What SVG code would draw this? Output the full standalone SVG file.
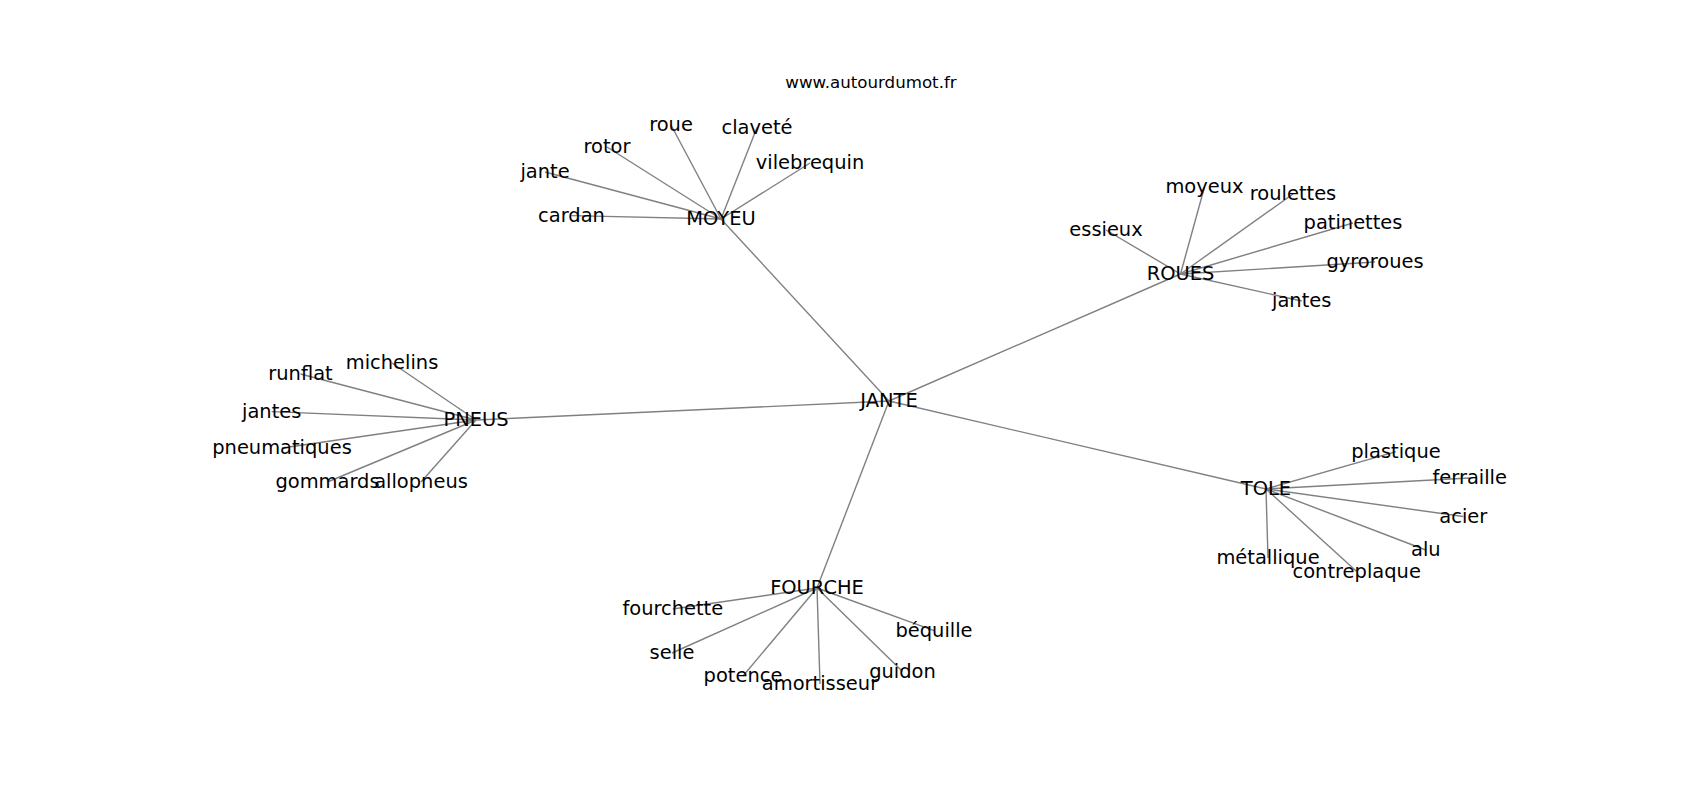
<svg xmlns="http://www.w3.org/2000/svg" width="1700" height="800" viewBox="0 0 1700 800">
<style>
.e{stroke:#808080;stroke-width:1.4;fill:none}
text{font-family:"DejaVu Sans","Liberation Sans",sans-serif;fill:#000}
.n{font-size:19.44px;text-anchor:middle}
.t{font-size:16.67px;text-anchor:middle}
</style>
<rect width="1700" height="800" fill="#fff"/>
<text class="t" x="871" y="88">www.autourdumot.fr</text>
<g id="edges">
<line class="e" x1="889" y1="401" x2="721" y2="219"/>
<line class="e" x1="889" y1="401" x2="1180.5" y2="274"/>
<line class="e" x1="889" y1="401" x2="476" y2="420"/>
<line class="e" x1="889" y1="401" x2="1266" y2="489"/>
<line class="e" x1="889" y1="401" x2="817" y2="588"/>
<line class="e" x1="721" y1="219" x2="671" y2="125"/>
<line class="e" x1="721" y1="219" x2="757" y2="127.5"/>
<line class="e" x1="721" y1="219" x2="607" y2="147"/>
<line class="e" x1="721" y1="219" x2="810" y2="163"/>
<line class="e" x1="721" y1="219" x2="545" y2="172"/>
<line class="e" x1="721" y1="219" x2="571.5" y2="215.6"/>
<line class="e" x1="1180.5" y1="274" x2="1204.5" y2="187"/>
<line class="e" x1="1180.5" y1="274" x2="1293" y2="194"/>
<line class="e" x1="1180.5" y1="274" x2="1106" y2="230"/>
<line class="e" x1="1180.5" y1="274" x2="1353" y2="223"/>
<line class="e" x1="1180.5" y1="274" x2="1375" y2="262"/>
<line class="e" x1="1180.5" y1="274" x2="1301.7" y2="301"/>
<line class="e" x1="476" y1="420" x2="392" y2="363"/>
<line class="e" x1="476" y1="420" x2="300.5" y2="374"/>
<line class="e" x1="476" y1="420" x2="271.7" y2="411.6"/>
<line class="e" x1="476" y1="420" x2="282" y2="448"/>
<line class="e" x1="476" y1="420" x2="327.5" y2="482"/>
<line class="e" x1="476" y1="420" x2="421" y2="482"/>
<line class="e" x1="1266" y1="489" x2="1396" y2="451.6"/>
<line class="e" x1="1266" y1="489" x2="1469.7" y2="478"/>
<line class="e" x1="1266" y1="489" x2="1463.3" y2="516.5"/>
<line class="e" x1="1266" y1="489" x2="1425.8" y2="550"/>
<line class="e" x1="1266" y1="489" x2="1268" y2="558"/>
<line class="e" x1="1266" y1="489" x2="1356.7" y2="571.5"/>
<line class="e" x1="817" y1="588" x2="672.8" y2="609"/>
<line class="e" x1="817" y1="588" x2="672" y2="653"/>
<line class="e" x1="817" y1="588" x2="743" y2="676"/>
<line class="e" x1="817" y1="588" x2="820" y2="684"/>
<line class="e" x1="817" y1="588" x2="902.5" y2="671.5"/>
<line class="e" x1="817" y1="588" x2="934" y2="630.6"/>
</g>
<g id="n-jante-hub"><text class="n" x="889" y="407">JANTE</text></g>
<g id="n-moyeu"><text class="n" x="721" y="225">MOYEU</text></g>
<g id="n-roue"><text class="n" x="671" y="131">roue</text></g>
<g id="n-clavete"><text class="n" x="757" y="133.5">claveté</text></g>
<g id="n-rotor"><text class="n" x="607" y="153">rotor</text></g>
<g id="n-vilebrequin"><text class="n" x="810" y="169">vilebrequin</text></g>
<g id="n-jante"><text class="n" x="545" y="178">jante</text></g>
<g id="n-cardan"><text class="n" x="571.5" y="221.6">cardan</text></g>
<g id="n-roues"><text class="n" x="1180.5" y="280">ROUES</text></g>
<g id="n-moyeux"><text class="n" x="1204.5" y="193">moyeux</text></g>
<g id="n-roulettes"><text class="n" x="1293" y="200">roulettes</text></g>
<g id="n-essieux"><text class="n" x="1106" y="236">essieux</text></g>
<g id="n-patinettes"><text class="n" x="1353" y="229">patinettes</text></g>
<g id="n-gyroroues"><text class="n" x="1375" y="268">gyroroues</text></g>
<g id="n-jantes-r"><text class="n" x="1301.7" y="307">jantes</text></g>
<g id="n-pneus"><text class="n" x="476" y="426">PNEUS</text></g>
<g id="n-michelins"><text class="n" x="392" y="369">michelins</text></g>
<g id="n-runflat"><text class="n" x="300.5" y="380">runflat</text></g>
<g id="n-jantes-p"><text class="n" x="271.7" y="417.6">jantes</text></g>
<g id="n-pneumatiques"><text class="n" x="282" y="454">pneumatiques</text></g>
<g id="n-gommards"><text class="n" x="327.5" y="488">gommards</text></g>
<g id="n-allopneus"><text class="n" x="421" y="488">allopneus</text></g>
<g id="n-tole"><text class="n" x="1266" y="495">TOLE</text></g>
<g id="n-plastique"><text class="n" x="1396" y="457.6">plastique</text></g>
<g id="n-ferraille"><text class="n" x="1469.7" y="484">ferraille</text></g>
<g id="n-acier"><text class="n" x="1463.3" y="522.5">acier</text></g>
<g id="n-alu"><text class="n" x="1425.8" y="556">alu</text></g>
<g id="n-metallique"><text class="n" x="1268" y="564">métallique</text></g>
<g id="n-contreplaque"><text class="n" x="1356.7" y="577.5">contreplaque</text></g>
<g id="n-fourche"><text class="n" x="817" y="594">FOURCHE</text></g>
<g id="n-fourchette"><text class="n" x="672.8" y="615">fourchette</text></g>
<g id="n-selle"><text class="n" x="672" y="659">selle</text></g>
<g id="n-potence"><text class="n" x="743" y="682">potence</text></g>
<g id="n-amortisseur"><text class="n" x="820" y="690">amortisseur</text></g>
<g id="n-guidon"><text class="n" x="902.5" y="677.5">guidon</text></g>
<g id="n-bequille"><text class="n" x="934" y="636.6">béquille</text></g>
</svg>
